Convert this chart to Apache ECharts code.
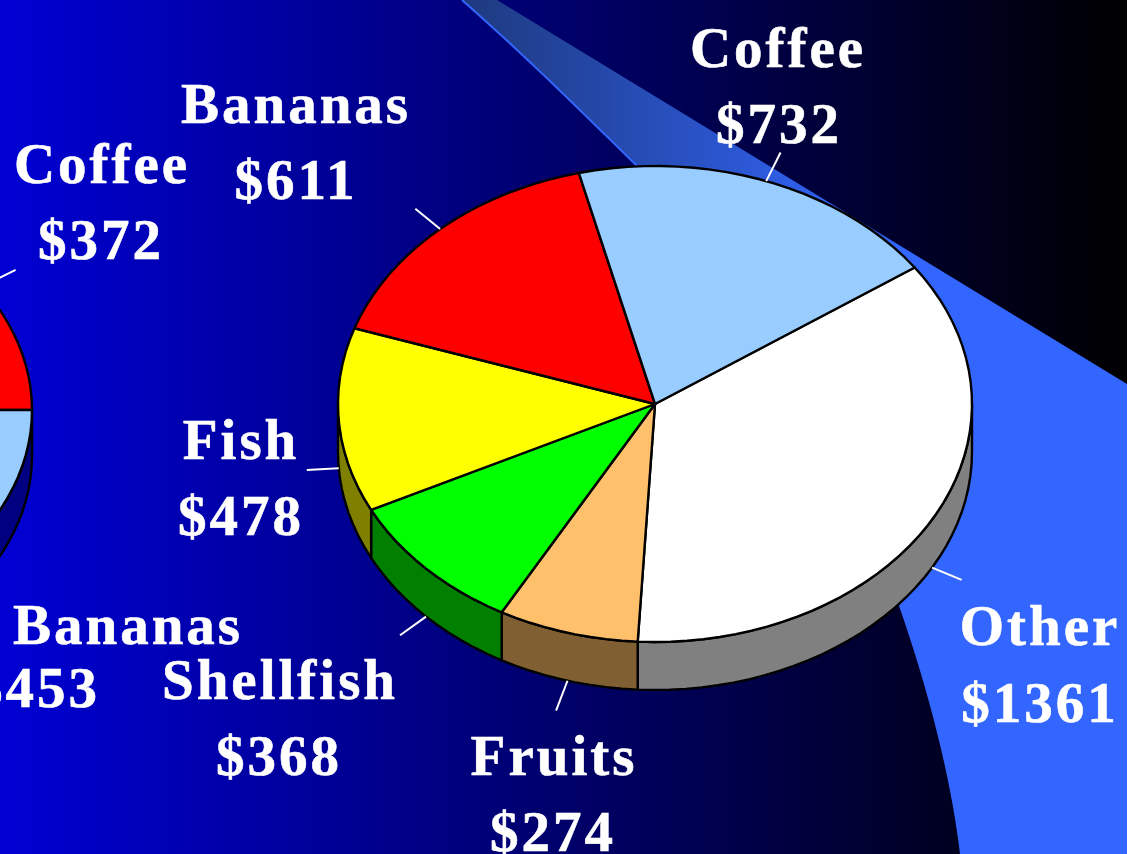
<!DOCTYPE html>
<html>
<head>
<meta charset="utf-8">
<style>html,body{margin:0;padding:0;background:#fff}#c{width:1136px;height:854px}</style>
<script src="https://cdn.jsdelivr.net/npm/echarts@6/dist/echarts.min.js"></script>
</head>
<body>
<div id="c"></div>
<script>
// ---- data ----
var categories = ['Other', 'Fruits', 'Shellfish', 'Fish', 'Bananas', 'Coffee'];
var values = [1361, 274, 368, 478, 611, 732];
var leftCategories = ['Coffee', 'Bananas'];
var leftValues = [372, 453];
var leftTotal = 1970; // the rest of that pie lies outside the picture

// ---- styling / layout ----
var topColors = ['#ffffff', '#ffc06c', '#00ff00', '#ffff00', '#ff0000', '#99ccff'];
var sideColors = ['#808080', '#806033', '#007f00', '#808000', '#800000', '#4d6680'];
var leftTopColors = ['#ff0000', '#99ccff'];
var leftSideColors = ['#800000', '#000080'];
var mainPie = { cx: 655, cy: 404, rx: 317, ry: 238, depth: 48, start: 35, leader: 32 };
var leftPie = { cx: -262, cy: 410, rx: 294, ry: 220, depth: 46, start: 68, leader: 38 };
var labelSpots = {
  Other: [[1040, 630], [1040, 707]], Fruits: [[554, 760], [553, 836]],
  Shellfish: [[280, 684], [279, 760]], Fish: [[241, 444], [241, 520]],
  Bananas: [[296, 108], [296, 184]], Coffee: [[778, 52], [779, 128]]
};
var leftLabelSpots = { Bananas: [[128, 629], [37, 692]], Coffee: [[102, 168], [101, 244]] };
var FONT = 'bold 57px "Liberation Serif", serif';
var TRACKING = '3px';

// The reference's labels are letter-spaced; zrender has no option for it.
var nativeFillText = CanvasRenderingContext2D.prototype.fillText;
var nativeStrokeText = CanvasRenderingContext2D.prototype.strokeText;
CanvasRenderingContext2D.prototype.fillText = function () {
  this.letterSpacing = TRACKING;
  return nativeFillText.apply(this, arguments);
};
CanvasRenderingContext2D.prototype.strokeText = function () {
  this.letterSpacing = TRACKING;
  return nativeStrokeText.apply(this, arguments);
};

function slices(pie, vals, total, tops, sides) {
  var sum = total || vals.reduce(function (a, b) { return a + b; }, 0);
  var a = pie.start, out = [];
  vals.forEach(function (v, i) {
    var sweep = v / sum * 360;
    out.push({ pie: pie, a0: a, a1: a - sweep, top: tops[i], side: sides[i], idx: i });
    a -= sweep;
  });
  return out;
}
function pt(p, deg, dy) {
  var r = deg * Math.PI / 180;
  return [p.cx + p.rx * Math.cos(r), p.cy - p.ry * Math.sin(r) + (dy || 0)];
}
function arc(p, a0, a1, dy) {
  var pts = [], n = Math.max(1, Math.ceil(Math.abs(a0 - a1) / 3));
  for (var i = 0; i <= n; i++) pts.push(pt(p, a0 + (a1 - a0) * i / n, dy));
  return pts;
}
function bez(p0, p1, p2, p3) {
  var out = [];
  for (var i = 0; i <= 30; i++) {
    var t = i / 30, u = 1 - t;
    out.push([
      u * u * u * p0[0] + 3 * u * u * t * p1[0] + 3 * u * t * t * p2[0] + t * t * t * p3[0],
      u * u * u * p0[1] + 3 * u * u * t * p1[1] + 3 * u * t * t * p2[1] + t * t * t * p3[1]
    ]);
  }
  return out;
}

var mainSlices = slices(mainPie, values, null, topColors, sideColors);
var leftSlices = slices(leftPie, leftValues, leftTotal, leftTopColors, leftSideColors);
var allSlices = leftSlices.concat(mainSlices);
var ids = allSlices.map(function (_, i) { return i; });

function sideItem(params, api) {
  var s = allSlices[api.value(0)];
  var hi = s.a0, lo = s.a1;
  var shapes = [];
  [[0, -180], [-360, -540]].forEach(function (w) {
    var a = Math.min(hi, w[0]), b = Math.max(lo, w[1]);
    if (a - b > 0.5) {
      var pts = arc(s.pie, a, b, 0).concat(arc(s.pie, b, a, s.pie.depth));
      shapes.push({ type: 'polygon', shape: { points: pts },
        style: { fill: s.side, stroke: '#000', lineWidth: 2.4, lineJoin: 'round' } });
    }
  });
  return { type: 'group', children: shapes };
}
function topItem(params, api) {
  var s = allSlices[api.value(0)];
  var pts = [[s.pie.cx, s.pie.cy]].concat(arc(s.pie, s.a0, s.a1, 0));
  return { type: 'polygon', shape: { points: pts },
    style: { fill: s.top, stroke: '#000', lineWidth: 2.4, lineJoin: 'round' } };
}
function labelEls(s, name, val, spots) {
  var mid = (s.a0 + s.a1) / 2, p = s.pie;
  var front = Math.sin(mid * Math.PI / 180) < 0;
  var a = pt(p, mid, front ? p.depth : 0);
  var dx = p.rx * Math.cos(mid * Math.PI / 180), dy = -p.ry * Math.sin(mid * Math.PI / 180);
  var l = Math.sqrt(dx * dx + dy * dy);
  var b = [a[0] + dx / l * p.leader, a[1] + dy / l * p.leader];
  var text = function (t, q) {
    return { type: 'text', style: { text: t, x: q[0], y: q[1], fill: '#fff', stroke: '#fff', lineWidth: 0.6, font: FONT, align: 'center', verticalAlign: 'middle' } };
  };
  return [
    { type: 'line', shape: { x1: a[0], y1: a[1], x2: b[0], y2: b[1] }, style: { stroke: '#fff', lineWidth: 2 } },
    text(name, spots[0]), text('$' + val, spots[1])
  ];
}
function labelItem(params, api) {
  var i = api.value(0), s = allSlices[i], n = leftSlices.length;
  var els = i < n ? labelEls(s, leftCategories[i], leftValues[i], leftLabelSpots[leftCategories[i]])
                  : labelEls(s, categories[i - n], values[i - n], labelSpots[categories[i - n]]);
  return { type: 'group', children: els };
}

var chart = echarts.init(document.getElementById('c'), null, { renderer: 'canvas' });
var edgeUpper = bez([462, 0], [530, 60], [590, 120], [637, 166]);
var edgeHidden = bez([637, 166], [740, 270], [860, 490], [898, 603]);
var edgeLower = bez([898, 603], [925, 680], [950, 770], [960, 854]);
var swoosh = [[497, 0], [1127, 384], [1127, 854]].concat(edgeLower.slice().reverse(), edgeHidden.slice().reverse(), edgeUpper.slice().reverse());
var option = {
  animation: false,
  graphic: [
    { type: 'rect', z: -10, shape: { x: 0, y: 0, width: 1127, height: 854 },
      style: { fill: { type: 'linear', x: 0, y: 0, x2: 1127, y2: 0, global: true,
        colorStops: [{ offset: 0, color: '#0000d4' }, { offset: 1, color: '#000000' }] } } },
    { type: 'polygon', z: -9, shape: { points: swoosh },
      style: { fill: { type: 'linear', x: 470, y: 0, x2: 880, y2: 0, global: true,
        colorStops: [{ offset: 0, color: '#1e3a80' }, { offset: 1, color: '#3366ff' }] } } },
    { type: 'polyline', z: -8, shape: { points: edgeUpper },
      style: { fill: null, stroke: '#3366ff', lineWidth: 2 } }
  ],
  series: [
    { type: 'custom', coordinateSystem: 'none', z: 2, silent: true, clip: false, renderItem: sideItem, data: ids.map(function (i) { return [i]; }) },
    { type: 'custom', coordinateSystem: 'none', z: 3, silent: true, clip: false, renderItem: topItem, data: ids.map(function (i) { return [i]; }) },
    { type: 'custom', coordinateSystem: 'none', z: 4, silent: true, clip: false, renderItem: labelItem, data: ids.map(function (i) { return [i]; }) }
  ]
};
chart.setOption(option);
</script>
</body>
</html>
